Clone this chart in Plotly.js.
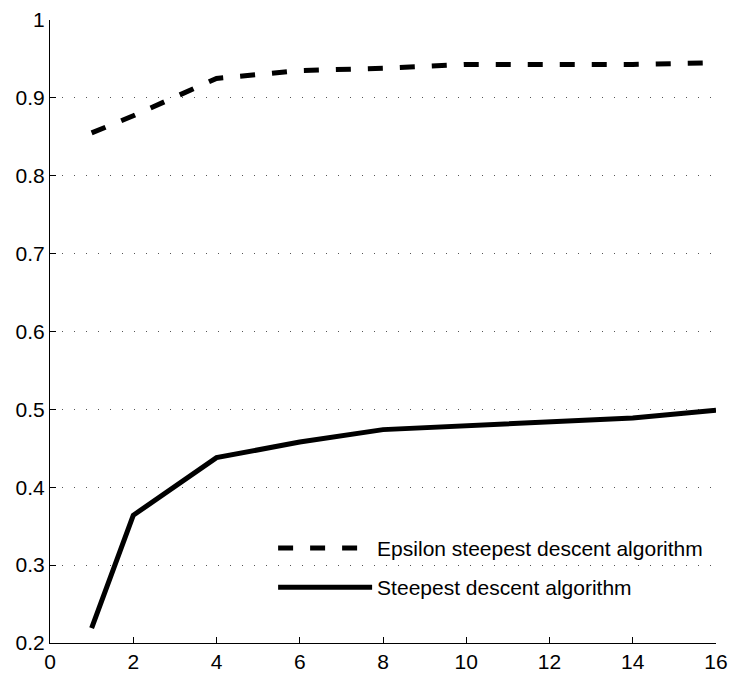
<!DOCTYPE html>
<html><head><meta charset="utf-8">
<script src="https://cdn.plot.ly/plotly-3.0.1.min.js"></script>
<style>body{margin:0;background:#fff}#c{width:729px;height:675px}</style>
</head><body><div id="c"></div>
<script>
const xVals = [1, 2, 4, 6, 8, 10, 12, 14, 16];
const epsilonSD = [0.855, 0.877, 0.925, 0.935, 0.938, 0.943, 0.943, 0.943, 0.945];
const steepestSD = [0.219, 0.364, 0.438, 0.458, 0.474, 0.479, 0.484, 0.489, 0.499];
const names = ['Epsilon steepest descent algorithm', 'Steepest descent algorithm'];
const xTicks = [0, 2, 4, 6, 8, 10, 12, 14, 16];
const yTicks = [0.2, 0.3, 0.4, 0.5, 0.6, 0.7, 0.8, 0.9, 1];

const traces = [
  {x: xVals, y: epsilonSD, name: names[0], legendgroup: 'a', mode: 'lines', line: {color: '#000', width: 5, dash: '15px,17px'}},
  {x: xVals, y: steepestSD, name: names[1], legendgroup: 'b', mode: 'lines', line: {color: '#000', width: 5}}
];
const font = {family: 'Liberation Sans, Arial, sans-serif', size: 21, color: '#000'};
const layout = {
  width: 729, height: 675,
  margin: {l: 50, r: 13, t: 20, b: 32},
  paper_bgcolor: '#fff', plot_bgcolor: '#fff',
  font: font,
  showlegend: true,
  legend: {x: 0.335, y: 0.185, xanchor: 'left', yanchor: 'top', bgcolor: 'rgba(0,0,0,0)',
           font: {family: font.family, size: 21, color: '#000'}, itemwidth: 94, tracegroupgap: 9},
  xaxis: {range: [0, 16], tickvals: xTicks, ticktext: xTicks.map(String), ticks: 'inside', ticklen: 6,
          tickcolor: '#000', showline: true, linecolor: '#000', linewidth: 1, showgrid: false, zeroline: false,
          tickfont: font, ticklabelstandoff: 0},
  yaxis: {range: [0.2, 1], tickvals: yTicks, ticktext: yTicks.map(String), ticks: 'inside', ticklen: 6,
          tickcolor: '#000', showline: true, linecolor: '#000', linewidth: 1, showgrid: true,
          gridcolor: '#555', griddash: '1px,11px', gridwidth: 1, zeroline: false, tickfont: font}
};
Plotly.newPlot('c', traces, layout, {displayModeBar: false, staticPlot: true});
</script></body></html>
